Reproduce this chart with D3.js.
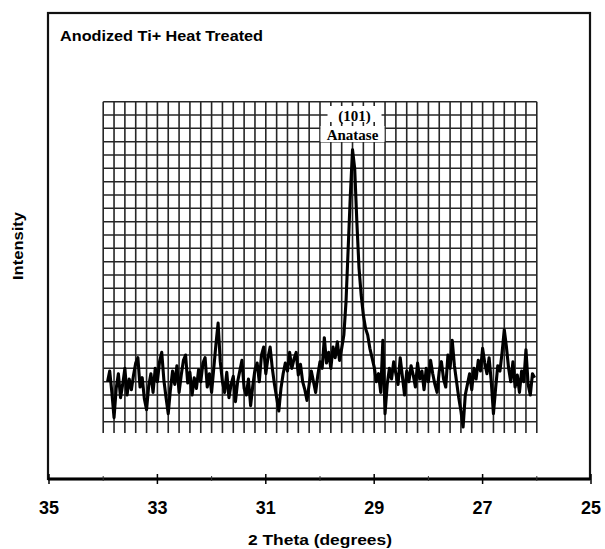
<!DOCTYPE html>
<html>
<head>
<meta charset="utf-8">
<script src="https://cdn.jsdelivr.net/npm/d3@7"></script>
<style>
  body { margin: 0; background: #fff; }
  text { font-family: "Liberation Sans", Arial, sans-serif; }
</style>
</head>
<body>
<svg width="605" height="549"></svg>
<script>
// scan settings (start angle and step of the diffractometer)
const scanStart = 33.92
const scanStep = -0.04

// measured intensity (counts), one value per step
const intensity = [
    30, 38, 22, 3, 25, 36, 18, 28, 40, 20,
    32, 24, 35, 44, 48, 26, 33, 17, 9, 27,
    36, 22, 40, 30, 45, 52, 31, 18, 6, 24,
    38, 28, 42, 22, 35, 46, 50, 29, 37, 20,
    33, 25, 39, 30, 44, 48, 26, 36, 22, 40,
    58, 74, 45, 30, 22, 37, 18, 28, 34, 15,
    30, 38, 46, 25, 20, 32, 12, 27, 39, 44,
    30, 50, 56, 36, 48, 56, 40, 28, 18, 8,
    25, 36, 44, 38, 52, 40, 47, 52, 35, 43,
    30, 24, 16, 28, 38, 30, 22, 35, 45, 40,
    63, 44, 52, 40, 56, 48, 60, 46, 55, 65,
    90, 130, 170, 204, 190, 150, 115, 95, 80, 70,
    65, 55, 48, 41, 30, 36, 22, 61, 6, 28,
    40, 32, 45, 36, 28, 48, 34, 20, 38, 30,
    42, 35, 26, 44, 32, 38, 24, 40, 30, 46,
    36, 28, 22, 38, 45, 32, 26, 50, 40, 61,
    42, 30, 18, 8, -4, 20, 28, 36, 24, 40,
    32, 46, 38, 55, 44, 36, 48, 30, 6, 25,
    42, 38, 52, 69, 56, 40, 30, 45, 26, 35,
    22, 38, 30, 54, 28, 20, 36, 33
]

const xTicks = [35, 33, 31, 29, 27, 25]
const xMinorTicks = [34, 32, 30, 28, 26]
const peakLabel = ["(101)", "Anatase"]
const peakAngle = 29.4

let svg = d3.select("svg")

// frame of the plot
const frame = { left: 48, right: 590, top: 13, bottom: 479 }

// x goes from high angle to low angle
let xScale = d3.scaleLinear()
    .domain([35, 25])
    .range([49, 591])

// y in counts, graph paper lines every 10 counts
let yScale = d3.scaleLinear()
    .domain([0, 240])
    .range([421.7, 101.7])

// graph paper background
let grid = svg.append("g").attr("class", "grid")

grid.selectAll("line.v")
    .data(d3.range(26, 34.01, 0.2))
    .join("line")
    .attr("class", "v")
    .attr("x1", d => xScale(d))
    .attr("x2", d => xScale(d))
    .attr("y1", yScale(240))
    .attr("y2", yScale(-8.5))
    .attr("stroke", "#262626")
    .attr("stroke-width", 1.6)

grid.selectAll("line.h")
    .data(d3.range(0, 241, 10))
    .join("line")
    .attr("class", "h")
    .attr("x1", xScale(34))
    .attr("x2", xScale(26))
    .attr("y1", d => yScale(d))
    .attr("y2", d => yScale(d))
    .attr("stroke", "#262626")
    .attr("stroke-width", 1.5)

// frame around the plot
svg.append("rect")
    .attr("x", frame.left)
    .attr("y", frame.top)
    .attr("width", frame.right - frame.left)
    .attr("height", frame.bottom - frame.top)
    .attr("fill", "none")
    .attr("stroke", "#111")
    .attr("stroke-width", 2.2)

// the pattern itself
let pattern = intensity.map((v, i) => [scanStart + scanStep * i, v])

svg.append("path")
    .datum(pattern)
    .attr("fill", "none")
    .attr("stroke", "#000")
    .attr("stroke-width", 3.1)
    .attr("stroke-linejoin", "round")
    .attr("d", d3.line()
        .x(d => xScale(d[0]))
        .y(d => yScale(d[1])))

// peak label with white knockout behind it
let label = svg.append("g")
    .attr("transform", `translate(${xScale(peakAngle)}, 0)`)

label.append("rect")
    .attr("x", -25)
    .attr("y", 106)
    .attr("width", 54)
    .attr("height", 16)
    .attr("fill", "#fff")

label.append("rect")
    .attr("x", -32)
    .attr("y", 126)
    .attr("width", 64)
    .attr("height", 16)
    .attr("fill", "#fff")

label.selectAll("text")
    .data(peakLabel)
    .join("text")
    .attr("x", (d, i) => i == 0 ? 2 : 0)
    .attr("y", (d, i) => i == 0 ? 121 : 140)
    .attr("text-anchor", "middle")
    .style("font-family", "'Liberation Serif', 'Times New Roman', serif")
    .style("font-weight", "bold")
    .style("font-size", "15px")
    .text(d => d)

// bottom axis
let xAxis = svg.append("g")
    .attr("transform", `translate(0, ${frame.bottom})`)

xAxis.append("line")
    .attr("x1", frame.left)
    .attr("x2", frame.right)
    .attr("stroke", "#000")
    .attr("stroke-width", 2.8)

xAxis.selectAll("line.major")
    .data(xTicks)
    .join("line")
    .attr("class", "major")
    .attr("x1", d => xScale(d))
    .attr("x2", d => xScale(d))
    .attr("y1", -5)
    .attr("y2", 5)
    .attr("stroke", "#000")
    .attr("stroke-width", 1.5)

xAxis.selectAll("line.minor")
    .data(xMinorTicks)
    .join("line")
    .attr("class", "minor")
    .attr("x1", d => xScale(d))
    .attr("x2", d => xScale(d))
    .attr("y1", -3)
    .attr("y2", 2)
    .attr("stroke", "#333")
    .attr("stroke-width", 1)

xAxis.selectAll("text")
    .data(xTicks)
    .join("text")
    .attr("x", d => xScale(d))
    .attr("y", 35)
    .attr("text-anchor", "middle")
    .style("font-size", "18px")
    .style("font-weight", "bold")
    .text(d => d)

// axis titles
svg.append("text")
    .attr("x", 320)
    .attr("y", 545)
    .attr("text-anchor", "middle")
    .attr("textLength", 144)
    .attr("lengthAdjust", "spacingAndGlyphs")
    .style("font-size", "15px")
    .style("font-weight", "bold")
    .text("2 Theta (degrees)")

svg.append("text")
    .attr("transform", "translate(23, 246) rotate(-90)")
    .attr("text-anchor", "middle")
    .attr("textLength", 68)
    .attr("lengthAdjust", "spacingAndGlyphs")
    .style("font-size", "14px")
    .style("font-weight", "bold")
    .text("Intensity")

// chart title in the corner
svg.append("text")
    .attr("x", 60)
    .attr("y", 41)
    .attr("textLength", 203)
    .attr("lengthAdjust", "spacingAndGlyphs")
    .style("font-size", "14px")
    .style("font-weight", "bold")
    .text("Anodized Ti+ Heat Treated")
</script>
</body>
</html>
